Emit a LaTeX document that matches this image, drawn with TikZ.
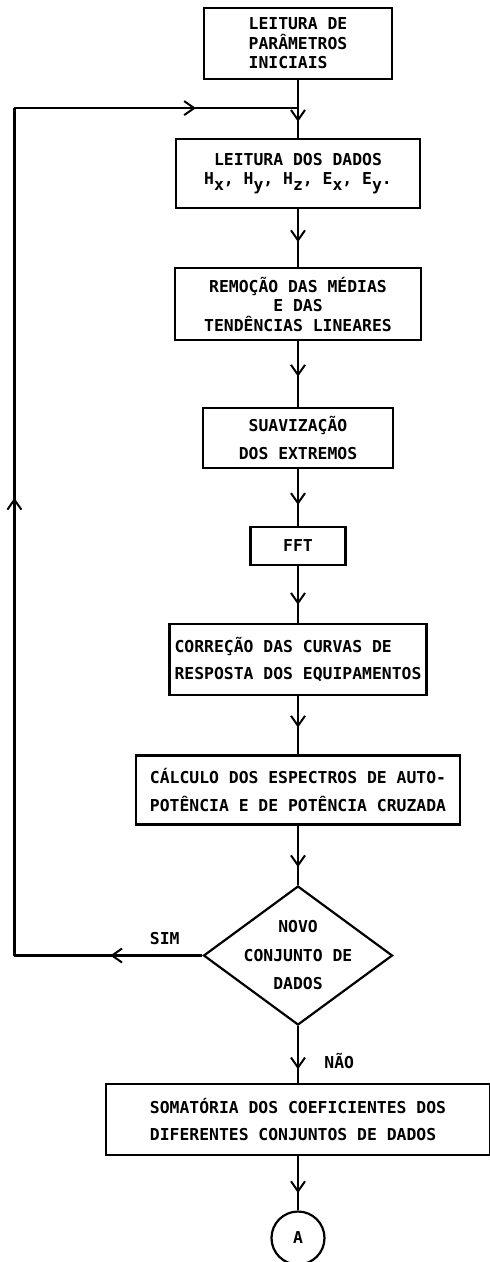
\documentclass[tikz,border=0pt]{standalone}
\usepackage{fontspec}
\setmonofont{DejaVu Sans Mono}
\usetikzlibrary{positioning,shapes.geometric,arrows.meta,decorations.markings}

\newcommand{\lowsub}[1]{\lower6pt\hbox{#1}}

\begin{document}
\begin{tikzpicture}[x=1pt,y=1pt,line width=2.2pt,
  every node/.style={font=\ttfamily\bfseries\fontsize{16.4}{19.5}\selectfont},
  box/.style={draw,rectangle,inner sep=4pt},
  midarrow/.style={decoration={markings,
    mark=at position #1 with {\arrow{Straight Barb[length=10pt,width=14pt,line width=2pt]}}},
    postaction={decorate}},
  midarrow/.default=.62]
\useasboundingbox (0,0) rectangle (490,-1262);
\node[box,align=left,minimum width=188,minimum height=71] (top) at (298,-43.5)
  {LEITURA DE\\PARÂMETROS\\INICIAIS};
\node[box,on grid,below=130 of top,align=center,minimum width=244,minimum height=69] (rd)
  {LEITURA DOS DADOS\\H\lowsub{x}, H\lowsub{y}, H\lowsub{z}, E\lowsub{x}, E\lowsub{y}.};
\node[box,on grid,below=130.5 of rd,align=center,minimum width=246,minimum height=72] (rem)
  {REMOÇÃO DAS MÉDIAS\\E DAS\\TENDÊNCIAS LINEARES};
\node[box,on grid,below=134 of rem,align=center,minimum width=190,minimum height=60] (suav)
  {SUAVIZAÇÃO\\[8pt]DOS EXTREMOS};
\node[box,on grid,below=108 of suav,minimum width=95,minimum height=38] (fft) {FFT};
\node[box,on grid,below=113.5 of fft,align=left,minimum width=257,minimum height=71] (corr)
  {CORREÇÃO DAS CURVAS DE\\[8pt]RESPOSTA DOS EQUIPAMENTOS};
\node[box,on grid,below=130.5 of corr,align=left,minimum width=324,minimum height=69] (calc)
  {CÁLCULO DOS ESPECTROS DE AUTO-\\[8pt]POTÊNCIA E DE POTÊNCIA CRUZADA};
\node[draw,diamond,on grid,below=165.5 of calc,minimum width=189,minimum height=139,inner sep=0pt,
  label={[align=center]center:NOVO\\[9pt]CONJUNTO DE\\[9pt]DADOS}] (dec) {};
\node[box,on grid,below=164 of dec,align=left,minimum width=384,minimum height=71] (soma)
  {SOMATÓRIA DOS COEFICIENTES DOS\\[8pt]DIFERENTES CONJUNTOS DE DADOS};
\node[draw,circle,on grid,below=118.5 of soma,minimum size=53,inner sep=0pt] (A) {A};

\coordinate[below=28 of top.south] (join);
\coordinate[left=188 of dec.west] (sw);
\coordinate (nw) at (sw |- join);

% fluxo principal
\draw[midarrow=.72] (top) -- (rd);
\draw[midarrow=.57] (rd) -- (rem);
\draw[midarrow=.54] (rem) -- (suav);
\draw[midarrow=.63] (suav) -- (fft);
\draw[midarrow=.68] (fft) -- (corr);
\draw[midarrow=.54] (corr) -- (calc);
\draw[midarrow=.70] (calc) -- (dec);
\draw[midarrow=.76] (dec) -- node[right=22,pos=.62] (nao) {NÃO} (soma);
\draw[midarrow=.68] (soma) -- (A);

% retorno
\draw[midarrow=.49] (dec.west) -- node[above=6,pos=.2] (sim) {SIM} (sw);
\draw[midarrow=.54] (sw) -- (nw);
\draw[midarrow=.64] (nw) -- (join);
\end{tikzpicture}
\end{document}
